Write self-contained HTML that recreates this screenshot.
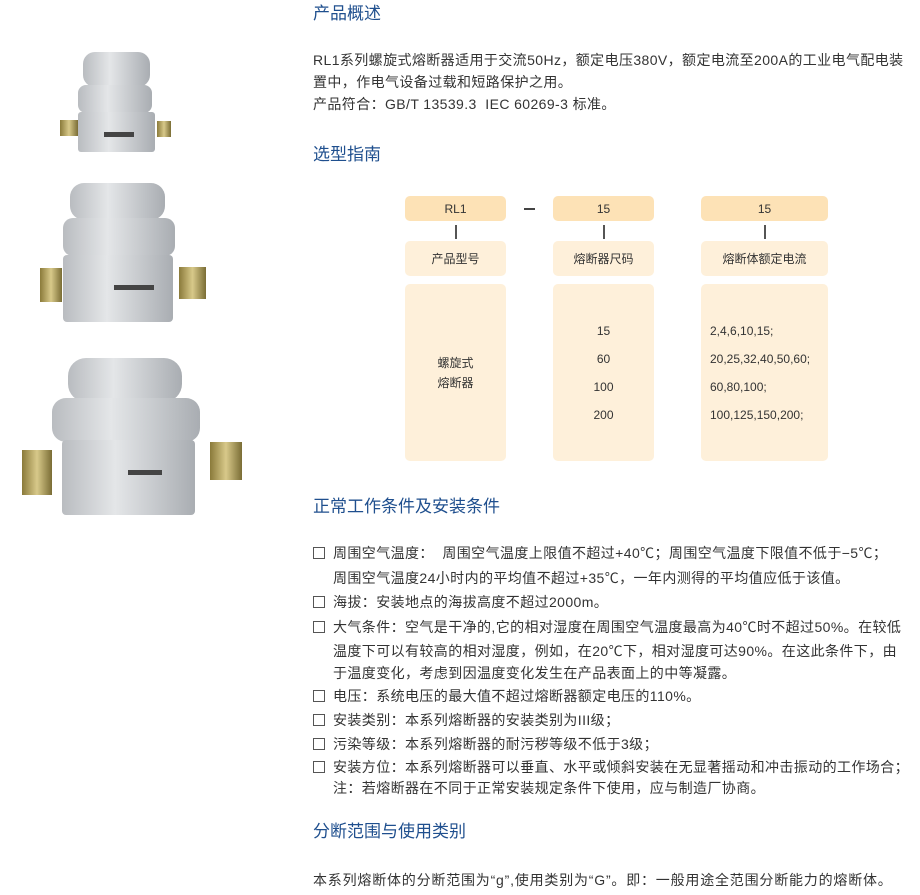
<!DOCTYPE html>
<html><head><meta charset="utf-8"><style>
body{margin:0;width:920px;height:895px;background:#fff;position:relative;font-family:"Liberation Sans","Noto Sans CJK SC",sans-serif;color:#333;overflow:hidden}
.a{position:absolute;white-space:nowrap;font-size:14px;letter-spacing:0.4px;line-height:16px}
.h{position:absolute;white-space:nowrap;font-size:17px;color:#1f4f8e;line-height:20px;left:313px}
.b{position:absolute;border-radius:5px;display:flex;align-items:center;justify-content:center;font-size:12px;color:#333}
.t{background:#fde2b6}.l{background:#fef0da}
.v{position:absolute;width:2px;height:14px;background:#555}
.cb{position:absolute;left:313px;width:10px;height:10px;border:1px solid #555}
</style></head><body>
<svg style="position:absolute;left:0;top:0" width="300" height="530">
<defs><linearGradient id="g" x1="0" x2="1"><stop offset="0" stop-color="#b9bcc0"/><stop offset=".4" stop-color="#e4e6e8"/><stop offset="1" stop-color="#a9adb2"/></linearGradient>
<linearGradient id="s" x1="0" x2="1"><stop offset="0" stop-color="#8a7a3a"/><stop offset=".5" stop-color="#d8c98a"/><stop offset="1" stop-color="#7a6d35"/></linearGradient></defs>
<g fill="url(#g)">
<rect x="83" y="52" width="67" height="35" rx="12"/><rect x="78" y="85" width="74" height="28" rx="8"/><rect x="78" y="112" width="77" height="40" rx="3"/>
<rect x="70" y="183" width="95" height="37" rx="14"/><rect x="63" y="218" width="112" height="38" rx="10"/><rect x="63" y="255" width="110" height="67" rx="4"/>
<rect x="68" y="358" width="114" height="44" rx="18"/><rect x="52" y="398" width="148" height="44" rx="14"/><rect x="62" y="440" width="133" height="75" rx="4"/>
</g>
<g fill="url(#s)">
<rect x="60" y="120" width="18" height="16"/><rect x="157" y="121" width="14" height="16"/>
<rect x="40" y="268" width="22" height="34"/><rect x="179" y="267" width="27" height="32"/>
<rect x="22" y="450" width="30" height="45"/><rect x="210" y="442" width="32" height="38"/>
</g>
<rect x="104" y="132" width="30" height="5" fill="#444"/><rect x="114" y="285" width="40" height="5" fill="#444"/><rect x="128" y="470" width="34" height="5" fill="#444"/>
</svg>
<div class="h" style="top:4px">产品概述</div>
<div class="a" style="left:313px;top:52px">RL1系列螺旋式熔断器适用于交流50Hz，额定电压380V，额定电流至200A的工业电气配电装</div>
<div class="a" style="left:313px;top:74px">置中，作电气设备过载和短路保护之用。</div>
<div class="a" style="left:313px;top:96px">产品符合：GB/T 13539.3&nbsp; IEC 60269-3 标准。</div>
<div class="h" style="top:145px">选型指南</div>
<div class="b t" style="left:405px;top:196px;width:101px;height:25px">RL1</div>
<div style="position:absolute;left:524px;top:208px;width:11px;height:2px;background:#444"></div>
<div class="b t" style="left:553px;top:196px;width:101px;height:25px">15</div>
<div class="b t" style="left:701px;top:196px;width:127px;height:25px">15</div>
<div class="v" style="left:455px;top:225px"></div><div class="v" style="left:603px;top:225px"></div><div class="v" style="left:764px;top:225px"></div>
<div class="b l" style="left:405px;top:241px;width:101px;height:35px">产品型号</div>
<div class="b l" style="left:553px;top:241px;width:101px;height:35px">熔断器尺码</div>
<div class="b l" style="left:701px;top:241px;width:127px;height:35px">熔断体额定电流</div>
<div class="b l" style="left:405px;top:284px;width:101px;height:177px;line-height:20px;text-align:center">螺旋式<br>熔断器</div>
<div class="b l" style="left:553px;top:284px;width:101px;height:177px;line-height:28px;text-align:center">15<br>60<br>100<br>200</div>
<div class="b l" style="left:701px;top:284px;width:127px;height:177px;line-height:28px;justify-content:flex-start;padding-left:9px;box-sizing:border-box">2,4,6,10,15;<br>20,25,32,40,50,60;<br>60,80,100;<br>100,125,150,200;</div>
<div class="h" style="top:497px">正常工作条件及安装条件</div>
<div class="cb" style="top:547px"></div><div class="a" style="left:333px;top:545px">周围空气温度：&nbsp; 周围空气温度上限值不超过+40℃；周围空气温度下限值不低于−5℃；</div>
<div class="a" style="left:333px;top:570px">周围空气温度24小时内的平均值不超过+35℃，一年内测得的平均值应低于该值。</div>
<div class="cb" style="top:596px"></div><div class="a" style="left:333px;top:594px">海拔：安装地点的海拔高度不超过2000m。</div>
<div class="cb" style="top:621px"></div><div class="a" style="left:333px;top:619px">大气条件：空气是干净的,它的相对湿度在周围空气温度最高为40℃时不超过50%。在较低</div>
<div class="a" style="left:333px;top:643px">温度下可以有较高的相对湿度，例如，在20℃下，相对湿度可达90%。在这此条件下，由</div>
<div class="a" style="left:333px;top:665px">于温度变化，考虑到因温度变化发生在产品表面上的中等凝露。</div>
<div class="cb" style="top:690px"></div><div class="a" style="left:333px;top:688px">电压：系统电压的最大值不超过熔断器额定电压的110%。</div>
<div class="cb" style="top:714px"></div><div class="a" style="left:333px;top:712px">安装类别：本系列熔断器的安装类别为III级；</div>
<div class="cb" style="top:738px"></div><div class="a" style="left:333px;top:736px">污染等级：本系列熔断器的耐污秽等级不低于3级；</div>
<div class="cb" style="top:761px"></div><div class="a" style="left:333px;top:759px">安装方位：本系列熔断器可以垂直、水平或倾斜安装在无显著摇动和冲击振动的工作场合；</div>
<div class="a" style="left:333px;top:780px">注：若熔断器在不同于正常安装规定条件下使用，应与制造厂协商。</div>
<div class="h" style="top:822px">分断范围与使用类别</div>
<div class="a" style="left:313px;top:872px;letter-spacing:0.8px">本系列熔断体的分断范围为“g”,使用类别为“G”。即：一般用途全范围分断能力的熔断体。</div>
</body></html>
